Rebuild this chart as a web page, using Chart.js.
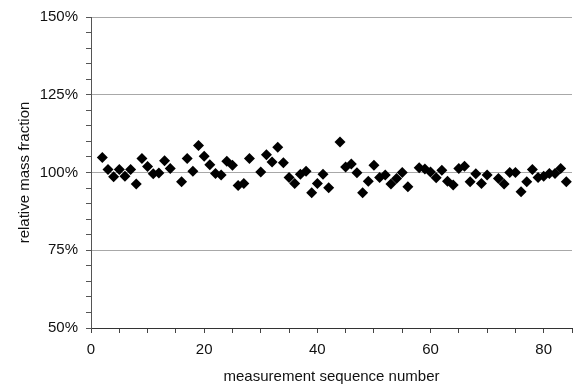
<!DOCTYPE html>
<html>
<head>
<meta charset="utf-8">
<script src="https://cdn.jsdelivr.net/npm/chart.js@4/dist/chart.umd.min.js"></script>
<style>
  html, body { margin: 0; padding: 0; background: #fff; }
  #wrap { width: 580px; height: 390px; }
</style>
</head>
<body>
<div id="wrap"><canvas id="chart" width="580" height="390"></canvas></div>
<script>
// measurement sequence numbers
const seqNumbers = [
  2, 3, 4, 5, 6, 7, 8, 9, 10, 11, 12, 13, 14, 16, 17, 18, 19, 20, 21, 22,
  23, 24, 25, 26, 27, 28, 30, 31, 32, 33, 34, 35, 36, 37, 38, 39, 40, 41, 42, 44,
  45, 46, 47, 48, 49, 50, 51, 52, 53, 54, 55, 56, 58, 59, 60, 61, 62, 63, 64, 65,
  66, 67, 68, 69, 70, 72, 73, 74, 75, 76, 77, 78, 79, 80, 81, 82, 83, 84
];
// relative mass fraction, percent
const massFraction = [
  104.8, 101.0, 98.6, 101.0, 98.8, 101.0, 96.3, 104.5, 101.9, 99.6, 99.8, 103.8, 101.3, 97.0, 104.5, 100.4, 108.7, 105.2, 102.5, 99.7,
  99.2, 103.6, 102.3, 95.8, 96.5, 104.5, 100.2, 105.7, 103.4, 108.1, 103.1, 98.4, 96.5, 99.4, 100.4, 93.5, 96.5, 99.4, 95.1, 109.8,
  101.8, 102.7, 99.9, 93.5, 97.2, 102.3, 98.4, 99.2, 96.3, 98.1, 100.0, 95.4, 101.5, 101.1, 100.2, 98.3, 100.7, 97.2, 96.0, 101.3,
  102.0, 97.0, 99.6, 96.5, 99.2, 98.1, 96.3, 100.0, 100.0, 93.8, 97.0, 101.0, 98.4, 98.8, 99.7, 99.7, 101.3, 97.0
];
const xTickLabels = [0, 20, 40, 60, 80];
const yTickLabels = [50, 75, 100, 125, 150];

const font = {family: "'Liberation Sans', Arial, sans-serif", size: 15};

let points = seqNumbers.map((x, i) => ({x: x, y: massFraction[i]}));

new Chart(document.getElementById('chart'), {
  type: 'scatter',
  data: {
    datasets: [{
      data: points,
      pointStyle: 'rectRot',
      pointRadius: 5.5,
      pointHoverRadius: 5.5,
      backgroundColor: '#000',
      borderColor: '#000',
      borderWidth: 0,
    }],
  },
  options: {
    responsive: false,
    animation: false,
    events: [],
    layout: {padding: {left: 0, right: 3, top: 14, bottom: 0}},
    plugins: {legend: {display: false}, tooltip: {enabled: false}},
    scales: {
      x: {
        type: 'linear',
        min: 0,
        max: 85,
        afterFit: (scale) => { scale.height = 62; },
        ticks: {
          stepSize: 5,
          autoSkip: false,
          maxRotation: 0,
          padding: 8,
          color: '#111',
          font: font,
          callback: (v) => xTickLabels.includes(v) ? String(v) : '',
        },
        grid: {drawOnChartArea: false, tickLength: 5, tickColor: '#444'},
        border: {color: '#333', width: 1},
        title: {display: true, text: 'measurement sequence number', color: '#111', font: font,
          padding: {top: 0, bottom: 4}},
      },
      y: {
        type: 'linear',
        min: 50,
        max: 150,
        afterFit: (scale) => { scale.width = 91; },
        ticks: {
          stepSize: 5,
          autoSkip: false,
          padding: 8,
          color: '#111',
          font: font,
          callback: (v) => yTickLabels.includes(v) ? v + '%' : '',
        },
        grid: {
          tickLength: 5,
          tickColor: '#555',
          color: (ctx) => (ctx.tick && ctx.tick.value % 25 === 0 && ctx.tick.value !== 50) ? '#a8a8a8' : 'rgba(0,0,0,0)',
        },
        border: {color: '#555', width: 1},
        title: {display: true, text: 'relative mass fraction', color: '#111', font: font,
          padding: {top: 16, bottom: 0}},
      },
    },
  },
});
</script>
</body>
</html>
